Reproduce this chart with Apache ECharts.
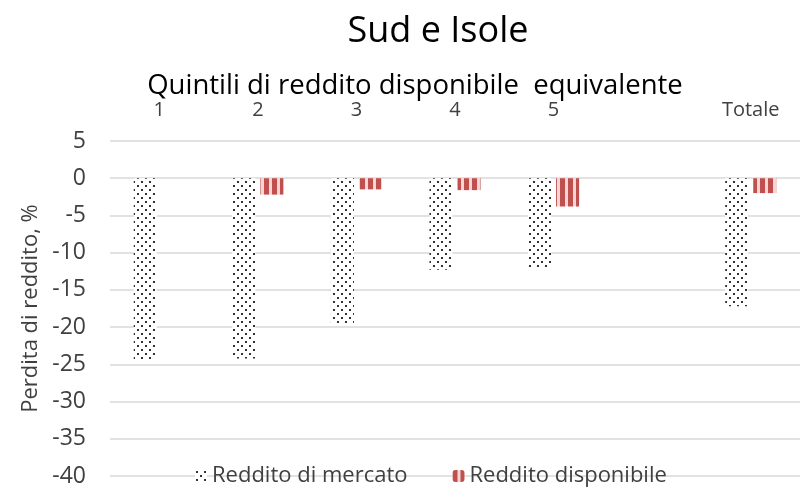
<!DOCTYPE html>
<html>
<head>
<meta charset="utf-8">
<script src="https://cdn.jsdelivr.net/npm/echarts@6/dist/echarts.min.js"></script>
<style>
  html, body { margin: 0; padding: 0; background: #fff; }
  #chart { width: 800px; height: 493px; }
</style>
</head>
<body>
<div id="chart"></div>
<script>
const categories = ['1', '2', '3', '4', '5', '', 'Totale']
const redditoMercato = [-24.5, -24.2, -19.7, -12.3, -12.1, null, -17.2]
const redditoDisponibile = [0, -2.2, -1.5, -1.6, -3.8, null, -2.0]
const yTicks = { min: -40, max: 5, interval: 5 }

const fontFamily = '"Open Sans", "Noto Sans", sans-serif'

// dotted fill like the Excel pattern
const makeDots = () => {
  const c = document.createElement('canvas')
  c.width = 8
  c.height = 8
  const ctx = c.getContext('2d')
  ctx.fillStyle = '#fff'
  ctx.fillRect(0, 0, 8, 8)
  ctx.fillStyle = '#333'
  ctx.fillRect(1, 1, 2, 2)
  ctx.fillRect(5, 5, 2, 2)
  return c
}

// vertical red stripes
const makeStripes = () => {
  const c = document.createElement('canvas')
  c.width = 8
  c.height = 8
  const ctx = c.getContext('2d')
  ctx.fillStyle = '#f2d6d5'
  ctx.fillRect(0, 0, 8, 8)
  ctx.fillStyle = '#c0504d'
  ctx.fillRect(0, 0, 5, 8)
  return c
}

const dotPattern = { image: makeDots(), repeat: 'repeat' }
const stripePattern = { image: makeStripes(), repeat: 'repeat' }

const chart = echarts.init(document.getElementById('chart'))
chart.setOption({
  animation: false,
  title: [
    {
      text: 'Sud e Isole',
      left: 433,
      textAlign: 'center',
      top: 9,
      textStyle: { fontFamily, fontSize: 36, fontWeight: 'normal', color: '#000' },
    },
    {
      text: 'Quintili di reddito disponibile  equivalente',
      left: 410,
      textAlign: 'center',
      top: 67,
      textStyle: { fontFamily, fontSize: 27.5, fontWeight: 'normal', color: '#000' },
    },
  ],
  grid: { left: 110, top: 141, width: 700, height: 335 },
  legend: {
    bottom: 1,
    left: 190,
    itemWidth: 12,
    itemHeight: 12,
    itemGap: 45,
    textStyle: { fontFamily, fontSize: 22, color: '#404040' },
    data: ['Reddito di mercato', 'Reddito disponibile'],
  },
  xAxis: {
    type: 'category',
    position: 'top',
    data: categories,
    axisLine: { show: false },
    axisTick: { show: false },
    axisLabel: { margin: 21, fontFamily, fontSize: 20, color: '#404040' },
  },
  yAxis: {
    type: 'value',
    min: yTicks.min,
    max: yTicks.max,
    interval: yTicks.interval,
    name: 'Perdita di reddito, %',
    nameLocation: 'middle',
    nameGap: 66,
    nameTextStyle: { fontFamily, fontSize: 22, color: '#404040' },
    axisLine: { show: false },
    axisTick: { show: false },
    axisLabel: { margin: 24, fontFamily, fontSize: 23, color: '#404040' },
    splitLine: { lineStyle: { color: '#d9d9d9', width: 1.5 } },
  },
  series: [
    {
      name: 'Reddito di mercato',
      type: 'bar',
      data: redditoMercato,
      barWidth: 23,
      barGap: '22%',
      itemStyle: { color: dotPattern },
    },
    {
      name: 'Reddito disponibile',
      type: 'bar',
      data: redditoDisponibile,
      barWidth: 23,
      itemStyle: { color: stripePattern },
    },
  ],
})
</script>
</body>
</html>
